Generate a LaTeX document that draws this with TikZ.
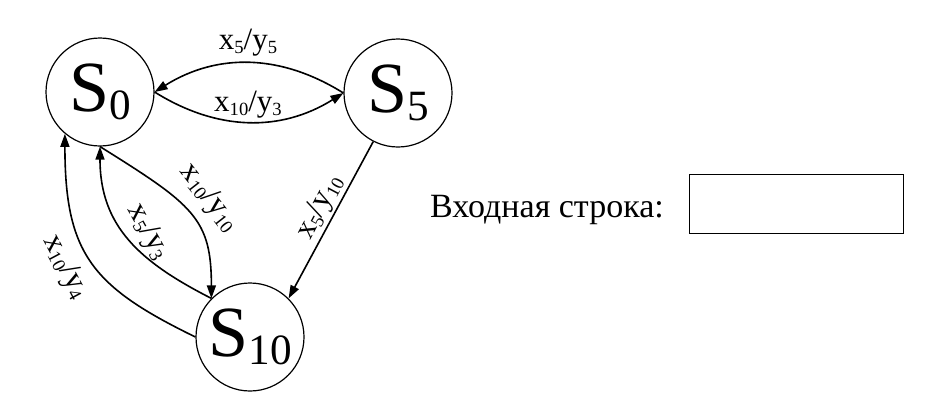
\documentclass[tikz,border=0pt]{standalone}
\usepackage{fontspec}
\setmainfont{Liberation Serif}
\usepackage{graphicx}
\usetikzlibrary{arrows.meta}
\newcommand{\lsub}[1]{\raisebox{-0.12em}{\scalebox{0.6}{#1}}}
\begin{document}
\begin{tikzpicture}[x=1pt,y=1pt,
    state/.style={circle,draw,line width=1.2pt,minimum size=108pt,inner sep=0pt,
                  font=\fontsize{72}{72}\selectfont},
    lbl/.style={inner sep=0pt,font=\fontsize{31}{31}\selectfont},
    arr/.style={-{Triangle[length=13pt,width=9pt]},line width=1.6pt}]
    \useasboundingbox (0,0) rectangle (941,-405);
    \node [state] (s0) at (100,-92) {S\lsub{0}};
    \node [state] (s5) at (398,-93) {S\lsub{5}};
    \node [state] (s10) at (250,-337) {S\lsub{10}};
    \draw [arr] (s5.west) to[out=148,in=32] (s0.east);
    \draw [arr] (s0.east) to[out=-32,in=-148] (s5.west);
    \draw [arr] (s0.south) .. controls +(-32:110) and +(90:80) .. (s10.135);
    \draw [arr] (s10.135) .. controls +(153:80) and +(-90:80) .. (s0.south);
    \draw [arr] (s10.west) .. controls +(154:115) and +(-90:120) .. (s0.230);
    \draw [arr] (s5.243) -- (s10.45);
    \node [lbl] (l55) at (248,-43) {x\lsub{5}/y\lsub{5}};
    \node [lbl] (l103) at (248,-105) {x\lsub{10}/y\lsub{3}};
    \node [lbl,rotate=-52] (l1010) at (209,-198) {x\lsub{10}/y\lsub{10}};
    \node [lbl,rotate=-61] (l53) at (148,-232) {x\lsub{5}/y\lsub{3}};
    \node [lbl,rotate=-62] (l104) at (65,-267) {x\lsub{10}/y\lsub{4}};
    \node [lbl,rotate=62] (l510) at (320,-207) {x\lsub{5}/y\lsub{10}};
    \node [anchor=base west,inner sep=0pt,font=\fontsize{34}{34}\selectfont] (input) at (430,-217) {Входная строка:};
    \node [draw,line width=1pt,anchor=north west,minimum width=214pt,minimum height=59pt] (box) at (689,-174) {};
\end{tikzpicture}
\end{document}
